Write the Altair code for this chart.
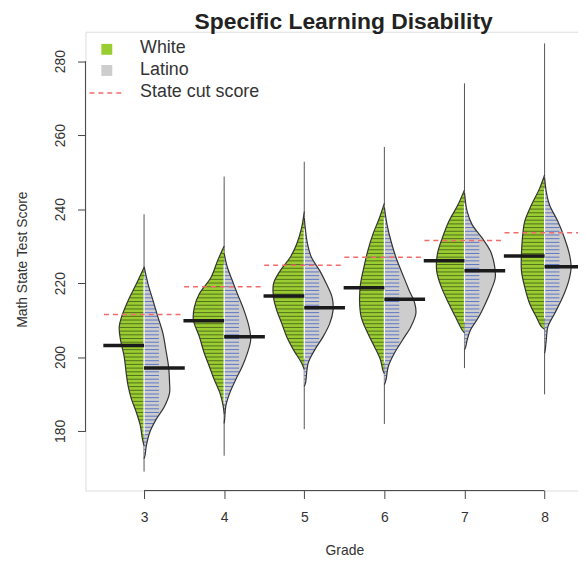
import altair as alt
import pandas as pd
import numpy as np

# ---------------- data ----------------
grades = [3, 4, 5, 6, 7, 8]
groups = ["White", "Latino"]

# bean density profiles: (score, half-width of the bean in pixels)
white_3 = [(176.0, 0), (177.9, 1.7), (181.4, 3.7), (185.0, 7.7), (188.6, 12.7), (192.1, 16.0), (195.7, 18.0),
           (200.1, 20.0), (204.6, 23.7), (208.2, 25.0), (210.8, 22.7), (215.3, 16.0), (219.8, 7.7), (224.2, 0)]
latino_3 = [(172.5, 0), (173.4, 1.0), (176.0, 2.3), (179.6, 5.7), (183.2, 12.3), (186.7, 20.7), (190.3, 25.7),
            (193.0, 25.7), (197.4, 24.7), (201.9, 22.0), (206.4, 19.0), (210.8, 14.0), (215.3, 9.0), (219.8, 4.0),
            (224.5, 0)]
white_4 = [(184.5, 0), (186.8, 1.0), (190.3, 4.3), (193.9, 10.0), (197.5, 15.0), (201.0, 20.0), (205.5, 25.0),
           (210.0, 31.0), (213.5, 30.0), (217.1, 25.0), (221.5, 13.3), (226.0, 6.7), (230.0, 0)]
latino_4 = [(182.0, 0), (183.2, 0.5), (186.8, 1.7), (190.3, 5.7), (193.9, 11.7), (197.5, 18.3), (201.0, 23.3),
            (204.6, 26.7), (208.2, 25.0), (212.6, 20.0), (217.1, 13.3), (220.6, 8.3), (224.2, 3.3), (228.0, 0)]
white_5 = [(196.6, 0), (198.4, 2.7), (202.0, 11.0), (205.5, 17.7), (209.1, 22.7), (212.6, 27.7), (216.2, 31.0),
           (219.8, 31.0), (223.3, 24.3), (226.9, 14.3), (230.5, 7.7), (234.9, 2.7), (239.4, 0)]
latino_5 = [(192.0, 0), (193.0, 1.3), (198.4, 4.0), (202.0, 10.7), (205.5, 19.0), (209.1, 25.7), (212.6, 29.0),
            (216.2, 28.0), (219.8, 22.3), (223.3, 15.7), (226.9, 7.3), (230.5, 3.3), (237.6, 0)]
white_6 = [(195.5, 0), (196.6, 1.7), (199.3, 4.0), (202.8, 10.0), (206.4, 16.7), (210.8, 23.3), (215.3, 25.0),
           (219.8, 24.0), (224.2, 20.7), (228.7, 16.7), (233.1, 11.7), (237.6, 5.0), (241.6, 0)]
latino_6 = [(192.5, 0), (193.9, 1.7), (197.5, 4.0), (201.0, 10.0), (204.6, 18.3), (208.2, 26.7), (211.7, 31.7),
            (214.4, 30.7), (218.0, 25.0), (222.4, 18.3), (226.9, 11.7), (231.3, 6.7), (235.8, 2.7), (240.5, 0)]
white_7 = [(206.5, 0), (207.3, 2.3), (210.8, 9.0), (214.4, 15.7), (218.9, 23.3), (223.3, 28.0), (227.8, 27.3),
           (232.2, 22.3), (236.7, 15.7), (241.1, 6.7), (245.2, 0)]
latino_7 = [(202.0, 0), (202.8, 1.3), (204.6, 2.7), (207.3, 6.0), (210.8, 14.3), (214.4, 21.0), (218.0, 26.7),
            (221.5, 31.0), (225.1, 30.0), (228.7, 26.0), (232.2, 17.7), (235.8, 7.7), (239.4, 2.7), (244.5, 0)]
white_8 = [(207.5, 0), (208.2, 3.3), (210.8, 8.3), (214.4, 15.0), (218.9, 20.0), (223.3, 23.3), (227.8, 23.3),
           (232.2, 22.3), (236.7, 20.0), (241.1, 13.3), (245.6, 5.0), (249.2, 0)]
latino_8 = [(201.0, 0), (202.0, 0.7), (204.6, 1.7), (208.2, 3.3), (211.7, 10.0), (216.2, 18.3), (220.6, 24.3),
            (224.2, 26.7), (227.8, 25.0), (232.2, 20.0), (236.7, 13.3), (241.1, 5.0), (244.7, 1.7), (248.5, 0)]

white_profiles = [white_3, white_4, white_5, white_6, white_7, white_8]
latino_profiles = [latino_3, latino_4, latino_5, latino_6, latino_7, latino_8]

mean_white = [203.1, 209.8, 216.5, 218.7, 226.0, 227.3]
mean_latino = [197.0, 205.5, 213.3, 215.6, 223.3, 224.4]
cut_scores = [211.5, 219.0, 224.8, 227.0, 231.5, 233.6]
score_min = [169.0, 173.3, 180.5, 181.9, 197.0, 189.9]
score_max = [238.6, 248.8, 252.8, 256.8, 274.0, 284.8]

y_ticks = [180, 200, 220, 240, 260, 280]
legend_labels = ["White", "Latino", "State cut score"]
chart_title = "Specific Learning Disability"

# ---------------- styling / layout ----------------
FONT = "Liberation Sans"
PX = 1 / 80.67            # grade units per pixel
PLOT_W, PLOT_H = 496, 462
X_MIN = 2.2686
X_MAX = X_MIN + PLOT_W * PX
Y_MIN, Y_MAX = 163.89, 287.95
GREEN = "#9ACD32"
GREY = "#CDCDCD"
RED = "#F26B6B"
WHITE_LINE_PX = 34
LATINO_LINE_PX = 15
MASK_EXTRA_PX = 3
MEAN_LEN_PX = 41
CURVE = "catmull-rom"

XS = alt.Scale(domain=[X_MIN, X_MAX], nice=False, zero=False)
YS = alt.Scale(domain=[Y_MIN, Y_MAX], nice=False, zero=False)

x_axis = alt.Axis(values=grades, format="d", domain=False, grid=False, tickSize=8, tickColor="#444",
                  labelFont=FONT, labelFontSize=14, labelColor="#333", labelPadding=12, labelOverlap=False,
                  title="Grade", titleFont=FONT, titleFontSize=14, titleFontWeight="normal", titleColor="#333",
                  titleX=260.7, titleY=64, titleAlign="center", titleBaseline="alphabetic")
y_axis = alt.Axis(values=y_ticks, format="d", domain=False, grid=False, tickSize=8, tickColor="#444",
                  labelFont=FONT, labelFontSize=14, labelColor="#333", labelAngle=270, labelAlign="center",
                  labelBaseline="alphabetic", labelPadding=13, labelOverlap=False,
                  title="Math State Test Score", titleFont=FONT, titleFontSize=14, titleFontWeight="normal",
                  titleColor="#333", titleAngle=270, titleAlign="center", titleBaseline="alphabetic",
                  titleX=-59, titleY=229)


def X(f):
    return alt.X(f, type="quantitative", scale=XS, axis=x_axis, stack=None)


def Y(f):
    return alt.Y(f, type="quantitative", scale=YS, axis=y_axis, stack=None)


# ---------------- tables built from the arrays ----------------
prof_rows, stripe_rows, body_rows = [], [], []
for g, wp, lp in zip(grades, white_profiles, latino_profiles):
    for grp, prof in (("White", wp), ("Latino", lp)):
        side = -1 if grp == "White" else 1
        L = (WHITE_LINE_PX if grp == "White" else LATINO_LINE_PX) * PX
        for s, w_px in prof:
            w = w_px * PX
            prof_rows.append(dict(grade=g, group=grp, key=f"{grp}{g}", score=s,
                                  edge=g + side * w,
                                  mask_end=g + side * max(w + MASK_EXTRA_PX * PX, L + MASK_EXTRA_PX * PX)))
        lo, hi = prof[0][0], prof[-1][0]
        for s in range(int(np.ceil(lo)) + 1, int(np.floor(hi))):
            stripe_rows.append(dict(grade=g, group=grp, score=s, x=g, x2=g + side * L))
    body_rows.append(dict(grade=g, lo=max(wp[0][0], lp[0][0]) + 3, hi=min(wp[-1][0], lp[-1][0]) - 3))

prof_df = pd.DataFrame(prof_rows)
stripe_df = pd.DataFrame(stripe_rows)
body_df = pd.DataFrame(body_rows)
range_df = pd.DataFrame(dict(grade=grades, lo=score_min, hi=score_max))
mean_df = pd.DataFrame(dict(
    grade=grades * 2,
    mean=mean_white + mean_latino,
    x2=[g - MEAN_LEN_PX * PX for g in grades] + [g + MEAN_LEN_PX * PX for g in grades]))
cut_df = pd.DataFrame(dict(grade=grades, cut=cut_scores,
                           x1=[g - 0.5 for g in grades], x2=[g + 0.5 for g in grades]))
yline_df = pd.DataFrame(dict(x=[X_MIN], y1=[min(y_ticks)], y2=[max(y_ticks)]))
xline_df = pd.DataFrame(dict(y=[Y_MIN], x1=[min(grades)], x2=[max(grades)]))

white_df = prof_df[prof_df.group == "White"]
latino_df = prof_df[prof_df.group == "Latino"]

# ---------------- layers ----------------
range_layer = alt.Chart(range_df).mark_rule(color="#555", strokeWidth=1).encode(
    x=X("grade"), y=Y("lo"), y2="hi")

area_w = alt.Chart(white_df).mark_area(orient="horizontal", color=GREEN, opacity=1, interpolate=CURVE).encode(
    y=Y("score"), x=X("grade"), x2="edge", detail="key:N")
area_l = alt.Chart(latino_df).mark_area(orient="horizontal", color=GREY, opacity=1, interpolate=CURVE).encode(
    y=Y("score"), x=X("grade"), x2="edge", detail="key:N")

stripes_w = alt.Chart(stripe_df[stripe_df.group == "White"]).mark_rule(
    color="#24300c", strokeWidth=1, opacity=0.6).encode(x=X("x"), x2="x2", y=Y("score"))
stripes_l = alt.Chart(stripe_df[stripe_df.group == "Latino"]).mark_rule(
    color="#4f6cc6", strokeWidth=1, opacity=0.9).encode(x=X("x"), x2="x2", y=Y("score"))

mask = alt.Chart(prof_df).mark_area(orient="horizontal", color="white", opacity=1, interpolate=CURVE).encode(
    y=Y("score"), x=X("edge"), x2="mask_end", detail="key:N")

body_line = alt.Chart(body_df).mark_rule(color="white", strokeWidth=1.2).encode(
    x=X("grade"), y=Y("lo"), y2="hi")

outline = alt.Chart(prof_df).mark_line(color="#333", strokeWidth=1.2, interpolate=CURVE).encode(
    x=X("edge"), y=Y("score"), detail="key:N", order="score:Q")

means = alt.Chart(mean_df).mark_rule(color="#1b1b1b", strokeWidth=3.5, clip=True).encode(
    x=X("grade"), x2="x2", y=Y("mean"))

cuts = alt.Chart(cut_df).mark_rule(color=RED, strokeWidth=1.5, strokeDash=[5, 4], clip=True).encode(
    x=X("x1"), x2="x2", y=Y("cut"))

yline = alt.Chart(yline_df).mark_rule(color="#444", strokeWidth=1).encode(x=X("x"), y=Y("y1"), y2="y2")
xline = alt.Chart(xline_df).mark_rule(color="#444", strokeWidth=1).encode(y=Y("y"), x=X("x1"), x2="x2")

# ---------------- legend and title ----------------
dummy = pd.DataFrame({"a": [0]})
leg = [
    alt.Chart(dummy).mark_square(size=121, color=GREEN, opacity=1).encode(x=alt.value(21.5), y=alt.value(17.7)),
    alt.Chart(dummy).mark_square(size=121, color=GREY, opacity=1).encode(x=alt.value(21.5), y=alt.value(39.0)),
    alt.Chart(dummy).mark_rule(color=RED, strokeWidth=1.5, strokeDash=[5, 4]).encode(
        x=alt.value(4), x2=alt.value(39), y=alt.value(61.7)),
]
for lab, yb in zip(legend_labels, [21.7, 43.5, 65.9]):
    leg.append(alt.Chart(dummy).mark_text(align="left", baseline="alphabetic", font=FONT, fontSize=18,
                                          color="#333").encode(x=alt.value(55), y=alt.value(yb),
                                                               text=alt.value(lab)))
title_layer = alt.Chart(dummy).mark_text(align="center", baseline="alphabetic", font=FONT, fontSize=23,
                                         fontWeight="bold", color="#222").encode(
    x=alt.value(260), y=alt.value(-3), text=alt.value(chart_title))

chart = alt.layer(
    range_layer, area_w, area_l, stripes_w, stripes_l, mask, body_line, outline,
    means, cuts, yline, xline, *leg, title_layer
).properties(
    width=PLOT_W, height=PLOT_H,
    autosize=alt.AutoSizeParams(type="none"),
    padding={"left": 78, "top": 22, "right": 0, "bottom": 66},
).configure_view(stroke=None).configure(background="white")

chart.save("out.html", embed_options={"renderer": "svg", "actions": False})
